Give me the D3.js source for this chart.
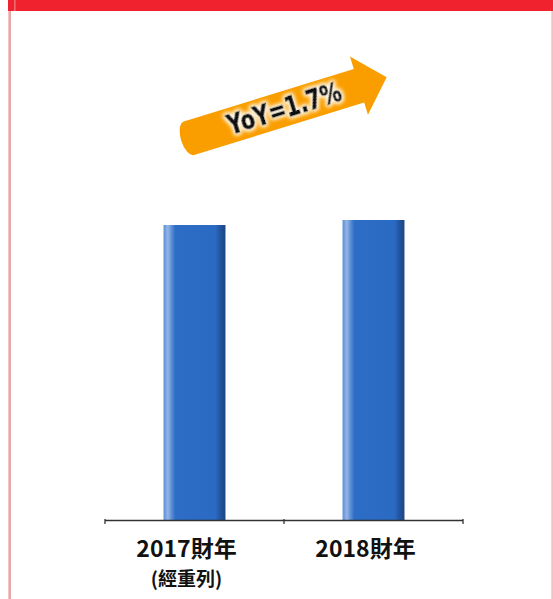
<!DOCTYPE html>
<html lang="zh-Hant">
<head>
<meta charset="UTF-8">
<title>營收比較</title>
<script src="https://cdn.jsdelivr.net/npm/d3@7/dist/d3.min.js"></script>
<style>
  html, body { margin: 0; padding: 0; background: #fff; }
  svg { display: block; }
</style>
</head>
<body>
<div id="app"></div>
<script>
// data
var categories = ["2017財年", "2018財年"];
var subLabels = ["(經重列)", ""];
var values = [100, 101.7];
var yoyText = "YoY=1.7%";

var width = 553, height = 599;
var plot = { left: 105, right: 463, top: 220, bottom: 520 };

var svg = d3.select("#app").append("svg")
    .attr("width", width)
    .attr("height", height);

var defs = svg.append("defs");

// bar shading, light on the left edge and dark on the right
var grad = defs.append("linearGradient")
    .attr("id", "barGrad")
    .attr("x1", "0%").attr("x2", "100%")
    .attr("y1", "0%").attr("y2", "0%");
[["0%", "#5b8ed6"], ["7%", "#96b6e6"], ["12%", "#6394d8"], ["19%", "#2e6dc5"],
 ["84%", "#2a6ac2"], ["92%", "#22539c"], ["100%", "#1d4682"]].forEach(function (s) {
    grad.append("stop").attr("offset", s[0]).attr("stop-color", s[1]);
});

// white glow behind the YoY text
var glow = defs.append("filter").attr("id", "glow")
    .attr("x", "-20%").attr("y", "-40%").attr("width", "140%").attr("height", "180%");
glow.append("feMorphology").attr("in", "SourceAlpha").attr("operator", "dilate").attr("radius", 1.5).attr("result", "d");
glow.append("feGaussianBlur").attr("in", "d").attr("stdDeviation", 2.2).attr("result", "b");
glow.append("feFlood").attr("flood-color", "#fff8e8").attr("result", "w");
glow.append("feComposite").attr("in", "w").attr("in2", "b").attr("operator", "in").attr("result", "halo");
var merge = glow.append("feMerge");
merge.append("feMergeNode").attr("in", "halo");
merge.append("feMergeNode").attr("in", "halo");
merge.append("feMergeNode").attr("in", "SourceGraphic");

// frame: red band on top, pink side lines
svg.append("rect").attr("x", 8).attr("y", 10).attr("width", 1).attr("height", height - 10).attr("fill", "#f3c6c6");
svg.append("rect").attr("x", 9).attr("y", 10).attr("width", 2).attr("height", height - 10).attr("fill", "#e6a9ab");
svg.append("rect").attr("x", 551.5).attr("y", 10).attr("width", 1.2).attr("height", height - 10).attr("fill", "#e8a9ab");
svg.append("rect").attr("x", 8).attr("y", 0).attr("width", width - 8).attr("height", 11).attr("fill", "#ef222e");
svg.append("rect").attr("x", 14).attr("y", 0).attr("width", 1.6).attr("height", 11).attr("fill", "#f06a6e");

// scales
var x = d3.scaleBand().domain(categories).range([plot.left, plot.right]).padding(0);
var y = d3.scaleLinear().domain([0, d3.max(values)]).range([plot.bottom, plot.top]);
var barW = x.bandwidth() * 0.346;

// bars
svg.selectAll("rect.bar")
    .data(values)
    .enter()
    .append("rect")
    .attr("class", "bar")
    .attr("x", function (d, i) { return x(categories[i]) + x.bandwidth() / 2 - barW / 2; })
    .attr("y", function (d) { return y(d); })
    .attr("width", barW)
    .attr("height", function (d) { return y(0) - y(d); })
    .attr("fill", "url(#barGrad)");

// axis line with ticks at the band edges
var edges = [plot.left].concat(categories.map(function (c) { return x(c) + x.bandwidth(); }));
var axis = svg.append("g").attr("stroke", "#333");
axis.append("line")
    .attr("x1", plot.left).attr("x2", plot.right)
    .attr("y1", plot.bottom + 0.5).attr("y2", plot.bottom + 0.5)
    .attr("stroke-width", 1.3);
axis.selectAll("line.tick")
    .data(edges)
    .enter()
    .append("line")
    .attr("class", "tick")
    .attr("x1", function (d) { return d; }).attr("x2", function (d) { return d; })
    .attr("y1", plot.bottom - 1).attr("y2", plot.bottom + 4)
    .attr("stroke-width", 1.3);

// category labels
var labelFont = "'Noto Sans CJK TC', 'DejaVu Sans', sans-serif";
svg.selectAll("text.cat")
    .data(categories)
    .enter()
    .append("text")
    .attr("class", "cat")
    .attr("x", function (d) { return x(d) + x.bandwidth() / 2 - 8; })
    .attr("y", 557)
    .attr("text-anchor", "middle")
    .attr("font-family", labelFont)
    .attr("font-weight", "bold")
    .attr("font-size", 23)
    .attr("fill", "#111")
    .text(function (d) { return d; });

svg.selectAll("text.sub")
    .data(subLabels)
    .enter()
    .append("text")
    .attr("class", "sub")
    .attr("x", function (d, i) { return x(categories[i]) + x.bandwidth() / 2 - 8; })
    .attr("y", 586)
    .attr("text-anchor", "middle")
    .attr("font-family", labelFont)
    .attr("font-weight", "bold")
    .attr("font-size", 19)
    .attr("fill", "#111")
    .text(function (d) { return d; });

// growth arrow
var arrow = svg.append("g").attr("transform", "translate(358,86) rotate(-17.2)");
arrow.append("path")
    .attr("d", "M-177,-17.5 L1,-17.5 L1,-30.5 L30,0 L1,30.5 L1,17.5 L-177,17.5 A8,17.5 0 0 1 -177,-17.5 Z")
    .attr("fill", "#fa9e00");
arrow.append("text")
    .attr("x", -77)
    .attr("y", 9)
    .attr("text-anchor", "middle")
    .attr("font-family", "'DejaVu Sans', sans-serif")
    .attr("font-weight", "bold")
    .attr("font-size", 26)
    .attr("textLength", 118)
    .attr("lengthAdjust", "spacingAndGlyphs")
    .attr("fill", "#111")
    .attr("stroke", "#111")
    .attr("stroke-width", 0.9)
    .attr("filter", "url(#glow)")
    .text(yoyText);
</script>
</body>
</html>
